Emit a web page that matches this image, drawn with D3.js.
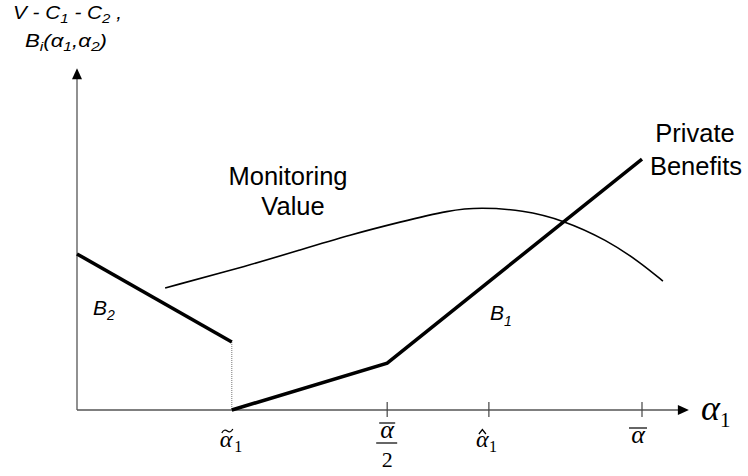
<!DOCTYPE html>
<html><head><meta charset="utf-8">
<script src="https://cdn.jsdelivr.net/npm/d3@7"></script>
<style>body{margin:0;background:#fff}svg{display:block}</style>
</head><body>
<svg id="c" width="748" height="476"></svg>
<script>
// ---- data (alpha_1 in units of alpha-bar, value in arbitrary units) ----
const tickValues = [0.274, 0.549, 0.729, 1.0];
const tickNames = ["alphaTilde1", "alphaBarHalf", "alphaHat1", "alphaBar"];
const b2Points = [[0, 0.459], [0.274, 0.2]];
const b1Points = [[0.274, 0], [0.549, 0.138], [1.0, 0.738]];
const monitoringX = [0.156, 0.306, 0.395, 0.483, 0.572, 0.660, 0.713, 0.789, 0.860, 0.938, 0.996, 1.037];
const monitoringY = [0.359, 0.426, 0.471, 0.515, 0.553, 0.588, 0.596, 0.588, 0.559, 0.500, 0.435, 0.379];

const svg = d3.select("#c");
const x = d3.scaleLinear().domain([0, 1]).range([77, 642]);
const y = d3.scaleLinear().domain([0, 1]).range([410, 70]);
const xMax = 1.083, yMax = 1.005;
const sans = "Liberation Sans, Arial, sans-serif";
const serif = "Liberation Serif, Times New Roman, serif";

// axes
svg.append("line").attr("x1", x(0)).attr("y1", y(0)).attr("x2", x(xMax) - 8).attr("y2", y(0))
  .attr("stroke", "#555").attr("stroke-width", 1.3);
svg.append("line").attr("x1", x(0)).attr("y1", y(0)).attr("x2", x(0)).attr("y2", y(yMax) + 8)
  .attr("stroke", "#555").attr("stroke-width", 1.3);
svg.append("path").attr("d", `M${x(xMax)},${y(0)} l-11,-5 l0,10 z`).attr("fill", "#000");
svg.append("path").attr("d", `M${x(0)},${y(yMax)} l-5,11 l10,0 z`).attr("fill", "#000");

// ticks (except alpha-tilde)
tickValues.forEach((v, i) => {
  if (tickNames[i] === "alphaTilde1") return;
  svg.append("line").attr("x1", x(v)).attr("x2", x(v)).attr("y1", y(0) - 8).attr("y2", y(0) + 7)
    .attr("stroke", "#444").attr("stroke-width", 1.2);
});

// dotted vertical drop
svg.append("line").attr("x1", x(b2Points[1][0])).attr("x2", x(b2Points[1][0]))
  .attr("y1", y(b2Points[1][1])).attr("y2", y(0))
  .attr("stroke", "#777").attr("stroke-width", 1).attr("stroke-dasharray", "1,1");

const line = d3.line().x(d => x(d[0])).y(d => y(d[1]));
svg.append("path").attr("d", line(b2Points)).attr("fill", "none").attr("stroke", "#000").attr("stroke-width", 3.5);
svg.append("path").attr("d", line(b1Points)).attr("fill", "none").attr("stroke", "#000").attr("stroke-width", 3.5);

const mon = monitoringX.map((v, i) => [v, monitoringY[i]]);
svg.append("path").attr("d", d3.line().x(d => x(d[0])).y(d => y(d[1])).curve(d3.curveBasis)(mon)).attr("fill", "none")
  .attr("stroke", "#000").attr("stroke-width", 1.6);

// text labels
function txt(xp, yp, s, opts = {}) {
  return svg.append("text").attr("x", xp).attr("y", yp)
    .attr("font-family", opts.family || sans).attr("font-size", opts.size || 20)
    .attr("font-style", opts.italic ? "italic" : "normal")
    .attr("text-anchor", opts.anchor || "start").attr("fill", "#000").text(s);
}
function stretchTo(sel, x0, width) {
  const w = sel.node().getBBox().width;
  const s = width / w;
  sel.attr("transform", `translate(${x0},0) scale(${s},1) translate(${-x0},0)`);
}
txt(288, 185, "Monitoring", {size: 25.5, anchor: "middle"});
txt(293, 215, "Value", {size: 25.5, anchor: "middle"});
txt(695, 142, "Private", {size: 25.5, anchor: "middle"});
txt(696, 175, "Benefits", {size: 25.5, anchor: "middle"});

// B2, B1
let t = txt(93, 315, "B", {size: 21, italic: true});
t.append("tspan").attr("dy", 5).attr("font-size", 14).text("2");
t = txt(490, 320, "B", {size: 21, italic: true});
t.append("tspan").attr("dy", 6).attr("font-size", 14).text("1");

// y-axis title
t = txt(13, 19, "V - C", {size: 18, italic: true});
t.append("tspan").attr("dy", 4).attr("font-size", 13).text("1");
t.append("tspan").attr("dy", -4).text(" - C");
t.append("tspan").attr("dy", 4).attr("font-size", 13).text("2");
t.append("tspan").attr("dy", -4).text(" ,");
stretchTo(t, 13, 109);
t = txt(25, 47, "B", {size: 18.5, italic: true});
t.append("tspan").attr("dy", 4).attr("font-size", 13).text("i");
t.append("tspan").attr("dy", -4).text("(\u03B1");
t.append("tspan").attr("dy", 4).attr("font-size", 13).text("1");
t.append("tspan").attr("dy", -4).text(",\u03B1");
t.append("tspan").attr("dy", 4).attr("font-size", 13).text("2");
t.append("tspan").attr("dy", -4).text(")");
stretchTo(t, 25, 82);

// x-axis label alpha_1
t = txt(701, 420, "\u03B1", {size: 36, italic: true, family: serif});
t.append("tspan").attr("dy", 7).attr("font-size", 21).attr("font-style", "normal").text("1");

// tick labels
// alpha tilde 1 (tilde drawn as a path)
let px = x(tickValues[0]);
t = txt(px - 12, 447, "\u03B1", {size: 24, italic: true, family: serif});
t.append("tspan").attr("x", px + 2.5).attr("y", 452).attr("font-size", 16).attr("font-style", "normal").text("1");
svg.append("path").attr("d", `M${px - 10},${433} q2.5,-4.5 5.5,-2 t5.5,-2`)
  .attr("fill", "none").attr("stroke", "#000").attr("stroke-width", 1.3);
// alpha bar / 2
px = x(tickValues[1]);
txt(px, 438, "\u03B1", {size: 26, italic: true, family: serif, anchor: "middle"});
svg.append("line").attr("x1", px - 8).attr("x2", px + 8).attr("y1", 423).attr("y2", 423).attr("stroke", "#000").attr("stroke-width", 1.2);
svg.append("line").attr("x1", px - 11).attr("x2", px + 10).attr("y1", 443).attr("y2", 443).attr("stroke", "#000").attr("stroke-width", 1.2);
txt(px, 467, "2", {size: 22, family: serif, anchor: "middle"});
// alpha hat 1 (hat drawn as a path)
px = x(tickValues[2]);
t = txt(px - 13, 447, "\u03B1", {size: 24, italic: true, family: serif});
t.append("tspan").attr("x", px).attr("y", 452).attr("font-size", 16).attr("font-style", "normal").text("1");
svg.append("path").attr("d", `M${px - 10},${434} l3.5,-4.5 l3.5,4.5`)
  .attr("fill", "none").attr("stroke", "#000").attr("stroke-width", 1.3);
// alpha bar
px = x(tickValues[3]);
txt(px - 4, 443, "\u03B1", {size: 26, italic: true, family: serif, anchor: "middle"});
svg.append("line").attr("x1", px - 13).attr("x2", px + 5).attr("y1", 428).attr("y2", 428).attr("stroke", "#000").attr("stroke-width", 1.2);
</script>
</body></html>
